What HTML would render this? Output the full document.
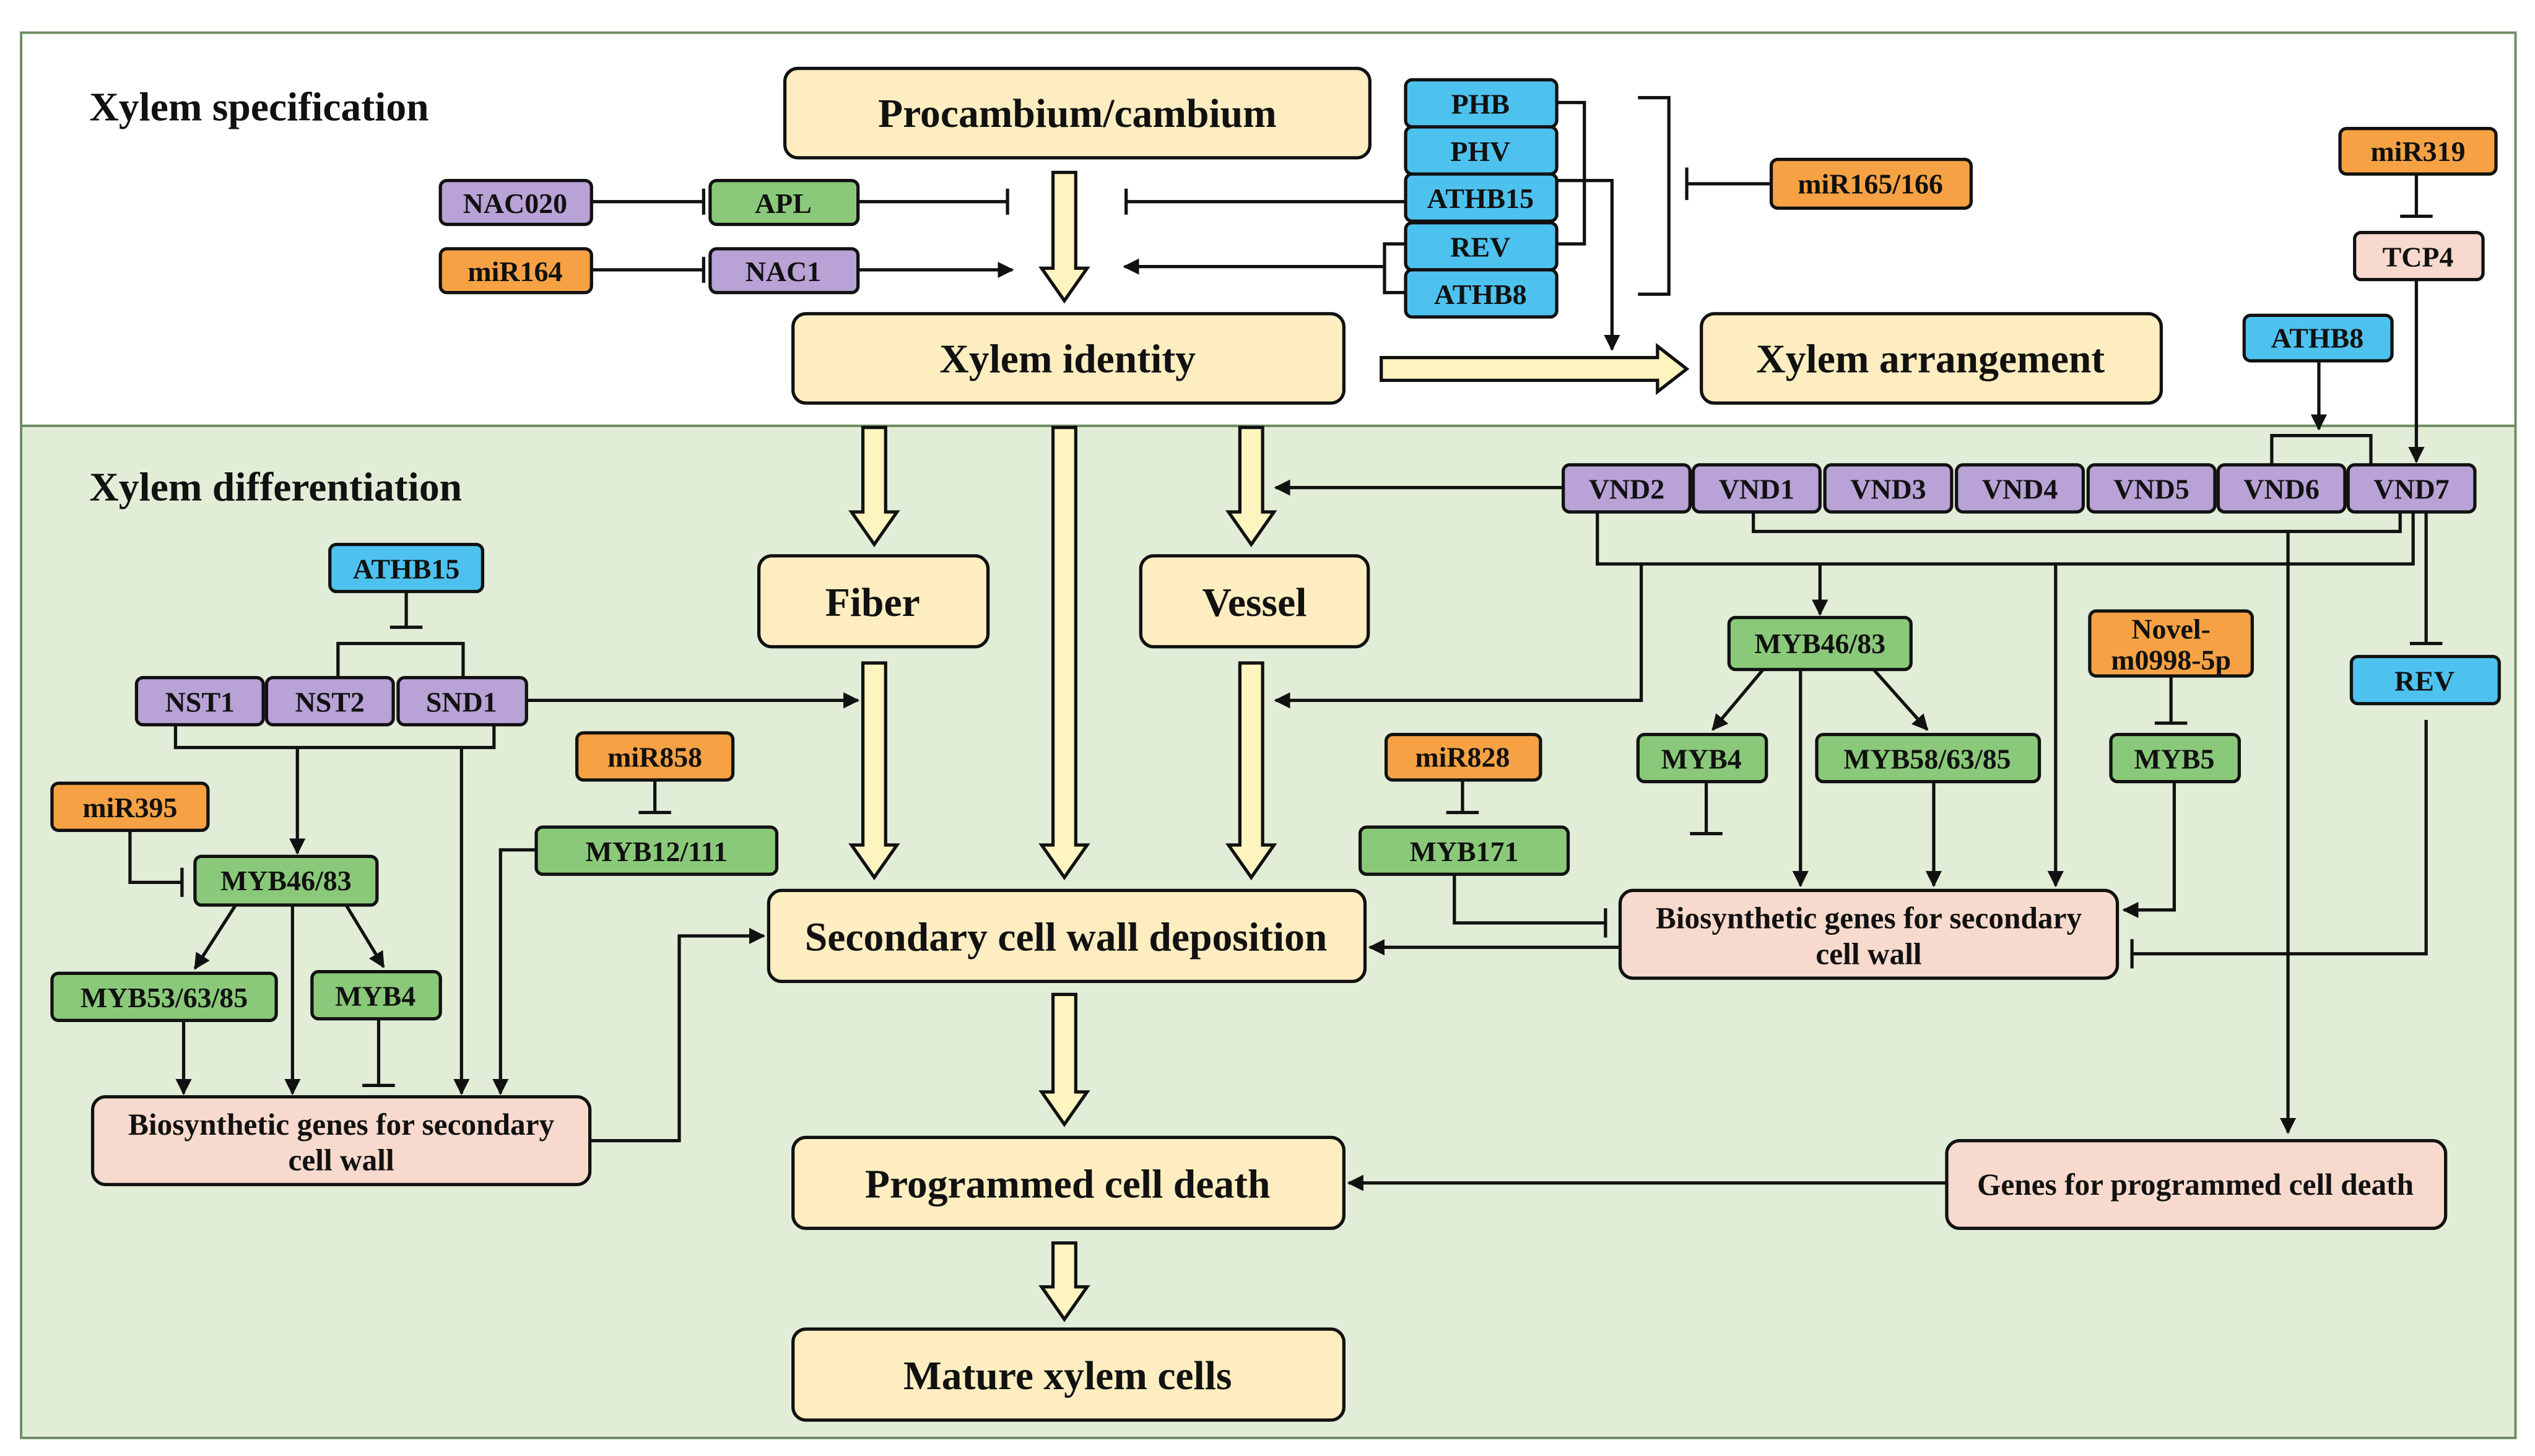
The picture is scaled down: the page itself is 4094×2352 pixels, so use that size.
<!DOCTYPE html>
<html><head><meta charset="utf-8"><style>
html,body{margin:0;padding:0;background:#fff}
svg{display:block}
text{font-family:"Liberation Serif",serif;font-weight:bold;fill:#111;text-anchor:middle;dominant-baseline:central}
.b{stroke:#111;stroke-width:2}
.y{fill:#fdedc0}.p{fill:#b8a2d6}.g{fill:#8bc97a}.o{fill:#f6a244}.c{fill:#4ec2ef}.k{fill:#f7dacd}
.l{stroke:#111;stroke-width:2;fill:none}
.h{fill:#fdf4c0;stroke:#111;stroke-width:2}
.s{font-size:17.5px}.m{font-size:25px}.t{font-size:18.8px}
</style></head><body>
<svg width="4094" height="2352" viewBox="0 0 1560 896" xmlns="http://www.w3.org/2000/svg">
<defs>
<marker id="a" viewBox="0 0 10 10" refX="9" refY="5" markerWidth="10" markerHeight="10" markerUnits="userSpaceOnUse" orient="auto"><path d="M0,0L10,5L0,10z" fill="#111"/></marker>
</defs>
<rect x="0" y="0" width="1560" height="896" fill="#fff"/>
<rect x="13" y="262" width="1535" height="623" fill="#e2edd8"/>
<rect x="13" y="20" width="1535" height="865" fill="none" stroke="#6e8c62" stroke-width="1.5"/>
<line x1="13" y1="262" x2="1548" y2="262" stroke="#6e8c62" stroke-width="1.5"/>
<text x="55" y="66" style="text-anchor:start;font-size:25px">Xylem specification</text>
<text x="55" y="300" style="text-anchor:start;font-size:25px">Xylem differentiation</text>

<g class="h">
<path d="M648,106H662V165H669L655,185L641,165H648Z"/>
<path d="M531,263H545V315H552L538,335L524,315H531Z"/>
<path d="M648,263H662V520H669L655,540L641,520H648Z"/>
<path d="M763,263H777V315H784L770,335L756,315H763Z"/>
<path d="M531,408H545V520H552L538,540L524,520H531Z"/>
<path d="M763,408H777V520H784L770,540L756,520H763Z"/>
<path d="M648,612H662V672H669L655,692L641,672H648Z"/>
<path d="M648,765H662V792H669L655,812L641,792H648Z"/>
<path d="M850,220V234H1020V241L1038,227L1020,213V220Z"/>
</g>

<g class="b">
<rect class="y" x="483" y="42" width="360" height="55" rx="8"/>
<rect class="y" x="488" y="193" width="339" height="55" rx="8"/>
<rect class="y" x="1047" y="193" width="283" height="55" rx="8"/>
<rect class="y" x="467" y="342" width="141" height="56" rx="8"/>
<rect class="y" x="702" y="342" width="140" height="56" rx="8"/>
<rect class="y" x="473" y="548" width="367" height="56" rx="8"/>
<rect class="y" x="488" y="700" width="339" height="56" rx="8"/>
<rect class="y" x="488" y="818" width="339" height="56" rx="8"/>
<rect class="k" x="57" y="675" width="306" height="54" rx="8"/>
<rect class="k" x="997" y="548" width="306" height="54" rx="8"/>
<rect class="k" x="1198" y="702" width="307" height="54" rx="8"/>
</g>
<text class="m" x="663" y="70">Procambium/cambium</text>
<text class="m" x="657" y="221">Xylem identity</text>
<text class="m" x="1188" y="221">Xylem arrangement</text>
<text class="m" x="537" y="371">Fiber</text>
<text class="m" x="772" y="371">Vessel</text>
<text class="m" x="656" y="577">Secondary cell wall deposition</text>
<text class="m" x="657" y="729">Programmed cell death</text>
<text class="m" x="657" y="847">Mature xylem cells</text>
<text class="t" x="210" y="692">Biosynthetic genes for secondary</text>
<text class="t" x="210" y="714">cell wall</text>
<text class="t" x="1150" y="565">Biosynthetic genes for secondary</text>
<text class="t" x="1150" y="587">cell wall</text>
<text class="t" x="1351" y="729">Genes for programmed cell death</text>

<g class="b">
<rect class="p" x="271" y="111" width="93" height="27" rx="4"/>
<rect class="g" x="437" y="111" width="91" height="27" rx="4"/>
<rect class="o" x="271" y="153" width="93" height="27" rx="4"/>
<rect class="p" x="437" y="153" width="91" height="27" rx="4"/>
<rect class="c" x="865" y="49" width="93" height="29" rx="4"/>
<rect class="c" x="865" y="78" width="93" height="29" rx="4"/>
<rect class="c" x="865" y="107" width="93" height="29" rx="4"/>
<rect class="c" x="865" y="137" width="93" height="29" rx="4"/>
<rect class="c" x="865" y="166" width="93" height="29" rx="4"/>
<rect class="o" x="1090" y="98" width="123" height="30" rx="4"/>
<rect class="o" x="1440" y="79" width="96" height="28" rx="4"/>
<rect class="k" x="1449" y="143" width="79" height="29" rx="4"/>
<rect class="c" x="1381" y="194" width="91" height="28" rx="4"/>
<rect class="p" x="962" y="286" width="78" height="29" rx="4"/>
<rect class="p" x="1042" y="286" width="78" height="29" rx="4"/>
<rect class="p" x="1123" y="286" width="78" height="29" rx="4"/>
<rect class="p" x="1204" y="286" width="78" height="29" rx="4"/>
<rect class="p" x="1285" y="286" width="78" height="29" rx="4"/>
<rect class="p" x="1365" y="286" width="78" height="29" rx="4"/>
<rect class="p" x="1445" y="286" width="78" height="29" rx="4"/>
<rect class="c" x="203" y="335" width="94" height="29" rx="4"/>
<rect class="p" x="84" y="417" width="78" height="29" rx="4"/>
<rect class="p" x="164" y="417" width="78" height="29" rx="4"/>
<rect class="p" x="245" y="417" width="79" height="29" rx="4"/>
<rect class="o" x="355" y="451" width="96" height="29" rx="4"/>
<rect class="g" x="330" y="509" width="148" height="29" rx="4"/>
<rect class="o" x="32" y="482" width="96" height="29" rx="4"/>
<rect class="g" x="120" y="527" width="112" height="30" rx="4"/>
<rect class="g" x="32" y="599" width="138" height="29" rx="4"/>
<rect class="g" x="192" y="598" width="79" height="29" rx="4"/>
<rect class="g" x="1064" y="380" width="112" height="32" rx="4"/>
<rect class="g" x="1008" y="452" width="79" height="29" rx="4"/>
<rect class="g" x="1118" y="452" width="137" height="29" rx="4"/>
<rect class="o" x="1286" y="376" width="100" height="40" rx="4"/>
<rect class="g" x="1299" y="452" width="79" height="29" rx="4"/>
<rect class="c" x="1447" y="404" width="91" height="29" rx="4"/>
<rect class="o" x="853" y="452" width="95" height="28" rx="4"/>
<rect class="g" x="837" y="509" width="128" height="29" rx="4"/>
</g>
<g class="s">
<text x="317" y="125">NAC020</text><text x="482" y="125">APL</text>
<text x="317" y="167">miR164</text><text x="482" y="167">NAC1</text>
<text x="911" y="64">PHB</text><text x="911" y="93">PHV</text><text x="911" y="122">ATHB15</text>
<text x="911" y="152">REV</text><text x="911" y="181">ATHB8</text>
<text x="1151" y="113">miR165/166</text><text x="1488" y="93">miR319</text>
<text x="1488" y="158">TCP4</text><text x="1426" y="208">ATHB8</text>
<text x="1001" y="301">VND2</text><text x="1081" y="301">VND1</text><text x="1162" y="301">VND3</text>
<text x="1243" y="301">VND4</text><text x="1324" y="301">VND5</text><text x="1404" y="301">VND6</text><text x="1484" y="301">VND7</text>
<text x="250" y="350">ATHB15</text>
<text x="123" y="432">NST1</text><text x="203" y="432">NST2</text><text x="284" y="432">SND1</text>
<text x="403" y="466">miR858</text><text x="404" y="524">MYB12/111</text>
<text x="80" y="497">miR395</text><text x="176" y="542">MYB46/83</text>
<text x="101" y="614">MYB53/63/85</text><text x="231" y="613">MYB4</text>
<text x="1120" y="396">MYB46/83</text><text x="1047" y="467">MYB4</text>
<text x="1186" y="467">MYB58/63/85</text>
<text x="1336" y="387">Novel-</text><text x="1336" y="406">m0998-5p</text>
<text x="1338" y="467">MYB5</text><text x="1492" y="419">REV</text>
<text x="900" y="466">miR828</text><text x="901" y="524">MYB171</text>
</g>

<g class="l">
<path d="M364,124H433M433,116V132"/>
<path d="M528,124H620M620,116V132"/>
<path d="M364,166H433M433,158V174"/>
<path d="M528,166H623" marker-end="url(#a)"/>
<path d="M865,124H693M693,116V132"/>
<path d="M865,150H852V180H865M852,164H692" marker-end="url(#a)"/>
<path d="M958,63H975V150H958"/>
<path d="M958,111H992V215" marker-end="url(#a)"/>
<path d="M1008,60H1027V181H1008"/>
<path d="M1090,113H1038M1038,103V123"/>
<path d="M1487,107V133M1477,133H1497"/>
<path d="M1487,172V284" marker-end="url(#a)"/>
<path d="M1427,222V264" marker-end="url(#a)"/>
<path d="M1398,286V268H1459V286"/>
<path d="M962,300H785" marker-end="url(#a)"/>
<path d="M1079,315V327H1477V315"/>
<path d="M983,315V347H1485V315"/>
<path d="M1010,347V431H785" marker-end="url(#a)"/>
<path d="M1120,347V378" marker-end="url(#a)"/>
<path d="M1265,347V545" marker-end="url(#a)"/>
<path d="M1408,327V697" marker-end="url(#a)"/>
<path d="M1493,315V396M1483,396H1503"/>
<path d="M1493,443V587H1312M1312,578V596"/>
<path d="M1085,412L1054,449" marker-end="url(#a)"/>
<path d="M1153,412L1186,449" marker-end="url(#a)"/>
<path d="M1108,412V545" marker-end="url(#a)"/>
<path d="M1050,481V513M1040,513H1060"/>
<path d="M1190,481V545" marker-end="url(#a)"/>
<path d="M1336,416V445M1326,445H1346"/>
<path d="M1338,481V560H1307" marker-end="url(#a)"/>
<path d="M900,480V500M890,500H910"/>
<path d="M895,538V568H988M988,559V577"/>
<path d="M997,583H843" marker-end="url(#a)"/>
<path d="M1198,728H830" marker-end="url(#a)"/>
<path d="M250,364V386M240,386H260"/>
<path d="M208,417V396H285V417"/>
<path d="M324,431H528" marker-end="url(#a)"/>
<path d="M108,446V460H304V446"/>
<path d="M183,460V525" marker-end="url(#a)"/>
<path d="M284,460V673" marker-end="url(#a)"/>
<path d="M403,480V500M393,500H413"/>
<path d="M330,523H308V673" marker-end="url(#a)"/>
<path d="M80,511V543H112M112,534V552"/>
<path d="M145,557L120,596" marker-end="url(#a)"/>
<path d="M213,557L236,595" marker-end="url(#a)"/>
<path d="M180,557V673" marker-end="url(#a)"/>
<path d="M113,628V673" marker-end="url(#a)"/>
<path d="M233,627V668M223,668H243"/>
<path d="M363,702H418V576H470" marker-end="url(#a)"/>
</g>
</svg>
</body></html>
